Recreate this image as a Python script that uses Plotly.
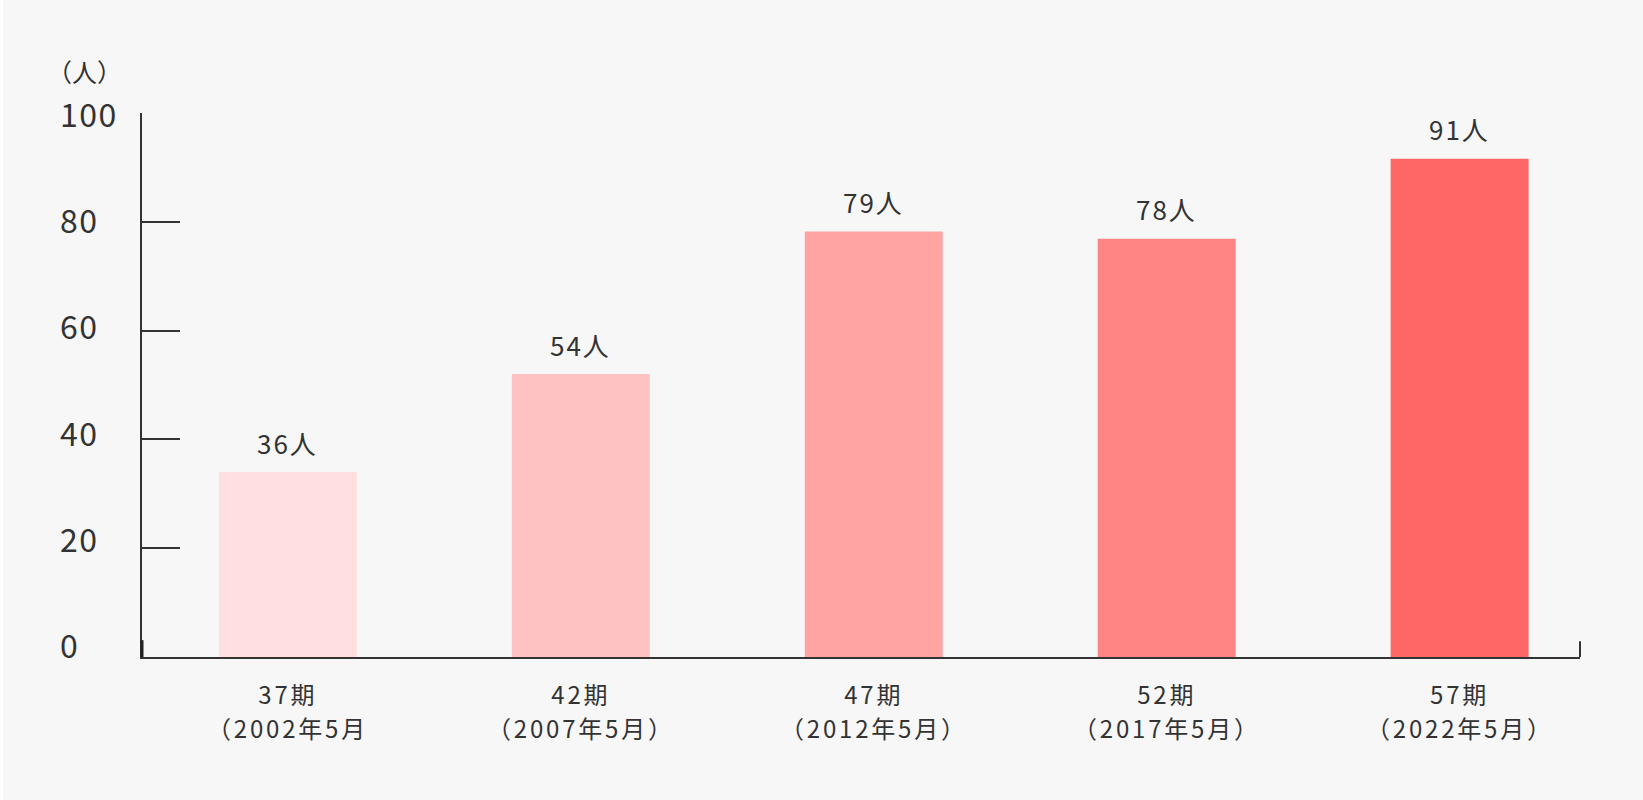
import plotly.graph_objects as go

# ---- data ----
categories = ["37期", "42期", "47期", "52期", "57期"]
periods = ["（2002年5月", "（2007年5月）", "（2012年5月）", "（2017年5月）", "（2022年5月）"]
bar_heights = [34, 52, 78.2, 76.9, 91.6]       # heights as drawn
value_labels = [36, 54, 79, 78, 91]            # numbers printed above bars
bar_colors = ["#FFDFE0", "#FFC2C3", "#FFA3A3", "#FF8585", "#FF6666"]
y_ticks = [0, 20, 40, 60, 80, 100]
unit_label = "（人）"

FONT = "Noto Sans CJK JP"
TXT = "#333333"


def spaced(s, px):
    return f"<span style='letter-spacing:{px}px'>{s}</span>"


fig = go.Figure()
fig.add_trace(go.Bar(
    x=categories, y=bar_heights, marker=dict(color=bar_colors, line=dict(width=0)),
    width=0.471, hoverinfo="skip", showlegend=False,
))
# invisible helper trace so the label axis exists
fig.add_trace(go.Scatter(x=[categories[0]], y=[0], yaxis="y2", mode="markers",
                         marker=dict(opacity=0), hoverinfo="skip", showlegend=False))

ann = []
for c, h, v in zip(categories, bar_heights, value_labels):
    ann.append(dict(x=c, y=h, xref="x", yref="y", text=spaced(f"{v}人", 2), showarrow=False,
                    yanchor="middle", xanchor="center", yshift=30,
                    font=dict(family=FONT, size=26, color=TXT)))
for c, p in zip(categories, periods):
    ann.append(dict(x=c, y=-0.1287, xref="x", yref="paper", text=spaced(p, 2.8), showarrow=False,
                    yanchor="middle", xanchor="center",
                    font=dict(family=FONT, size=24, color=TXT)))
for t in y_ticks:
    ann.append(dict(x=-0.0584, y=t, xref="paper", yref="y2", text=spaced(str(t), 1.5), showarrow=False,
                    xanchor="left", yanchor="middle",
                    font=dict(family=FONT, size=32, color=TXT)))
ann.append(dict(x=-0.0403, y=1.077, xref="paper", yref="paper", text=unit_label,
                showarrow=False, xanchor="center", yanchor="middle",
                font=dict(family=FONT, size=25, color=TXT)))

shapes = [
    # right end tick of x axis
    dict(type="line", xref="paper", yref="paper", x0=1, x1=1, y0=0, y1=0.029,
         line=dict(color="#333333", width=2)),
    # left end reinforcement
    dict(type="line", xref="paper", yref="paper", x0=0, x1=0, y0=0, y1=0.031,
         line=dict(color="#222222", width=3)),
    # thin white strip at left edge
    dict(type="rect", xref="paper", yref="paper", x0=-0.0988, x1=-0.0967, y0=-0.27, y1=1.21,
         fillcolor="#FFFFFF", line=dict(width=0), layer="below"),
]

fig.update_layout(
    width=1643, height=800,
    margin=dict(l=142, r=63, t=113, b=143, pad=0),
    paper_bgcolor="#F7F7F7", plot_bgcolor="#F7F7F7",
    font=dict(family=FONT, color=TXT),
    annotations=ann, shapes=shapes,
    xaxis=dict(
        type="category", range=[-0.498, 4.411],
        tickvals=categories,
        ticktext=[spaced(c, 2.8) for c in categories],
        tickfont=dict(family=FONT, size=24, color=TXT),
        ticklabelstandoff=16,
        showline=True, linecolor="#333333", linewidth=2,
        ticks="", showgrid=False, zeroline=False, fixedrange=True,
    ),
    yaxis=dict(
        range=[0, 100], tickvals=y_ticks, showticklabels=False,
        ticks="inside", ticklen=38, tickwidth=1.5, tickcolor="#333333",
        showline=True, linecolor="#333333", linewidth=2,
        showgrid=False, zeroline=False, fixedrange=True,
    ),
    yaxis2=dict(overlaying="y", range=[-2.44, 100.0], visible=False, fixedrange=True),
)

fig.write_html("out.html", config={"displayModeBar": False},
               post_script="document.body.style.margin='0';")
